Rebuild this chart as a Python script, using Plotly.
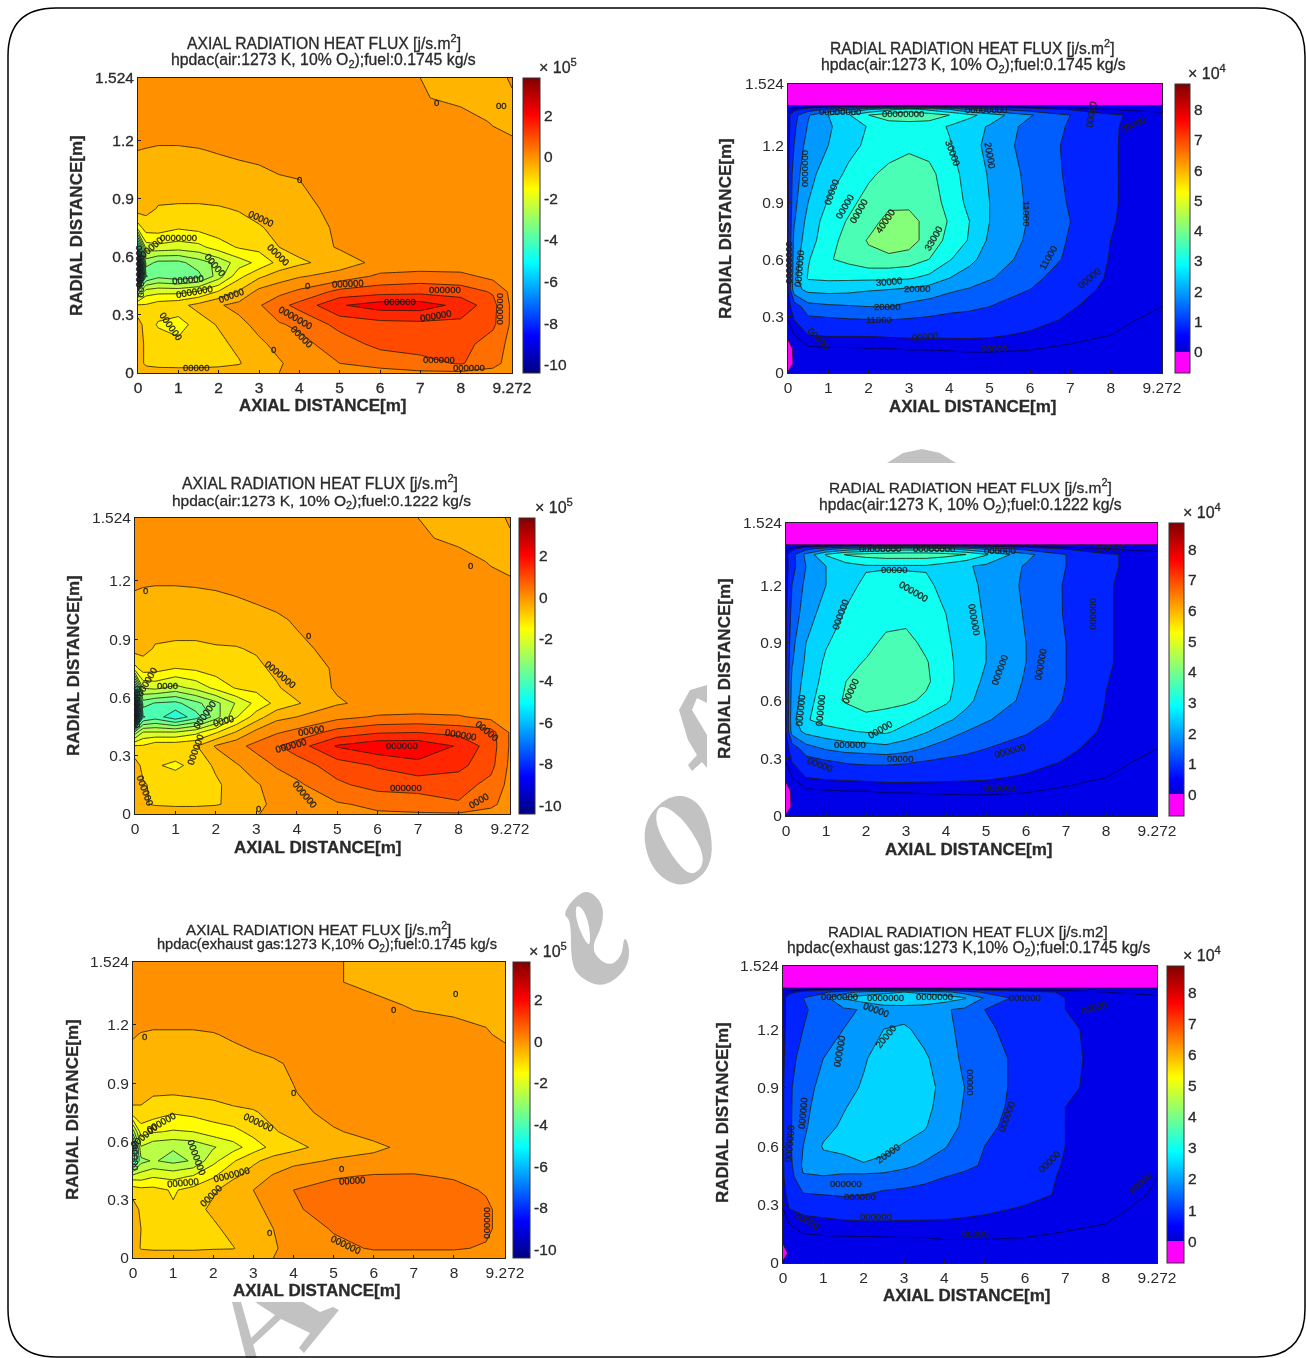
import plotly.graph_objects as go

W, H = 1306, 1358

x_left = [0, .2, .5, 1, 1.5, 2, 2.5, 3, 3.5, 4, 5, 6, 7, 8, 8.8, 9.272]
y_left = [0, .05, .15, .25, .35, .42, .5, .57, .65, .75, .85, 1.0, 1.15, 1.3, 1.42, 1.524]
x_right = [0, .15, .5, 1, 1.5, 2, 2.5, 3, 3.5, 4, 4.5, 5, 6, 7, 8, 9.272]
y_right = [0, .05, .13, .2, .28, .35, .44, .5, .6, .7, .8, .9, 1.05, 1.2, 1.3, 1.36, 1.39, 1.41, 1.43, 1.524]

x_tick_vals = [0, 1, 2, 3, 4, 5, 6, 7, 8, 9.272]
x_tick_text = ["0", "1", "2", "3", "4", "5", "6", "7", "8", "9.272"]
y_tick_vals = [0, .3, .6, .9, 1.2, 1.524]
y_tick_text = ["0", "0.3", "0.6", "0.9", "1.2", "1.524"]
cbar_left_ticks = [-10, -8, -6, -4, -2, 0, 2]
cbar_right_ticks = [0, 1, 2, 3, 4, 5, 6, 7, 8]

# axial flux, x 1e5
z_axial_a = [
 [-.3,-.35,-.4,-.45,-.45,-.4,-.4,-.3,-.25,0,.1,.1,.15,.15,.1,0],
 [-.4,-.9,-1,-1,-1,-.95,-.8,-.4,-.3,-.05,.25,.4,.6,.8,.4,.05],
 [-.4,-.9,-1,-1.1,-1.1,-.9,-.6,-.35,-.1,.1,.5,.9,.95,.95,.5,.1],
 [-.5,-1,-1.3,-1.5,-1,-.7,-.4,-.1,.2,.35,.9,1.05,1.1,1.1,.85,.15],
 [-1.2,-1.2,-1,-.9,-.6,-.3,-.1,.2,.6,.9,1.7,2,2,1.6,.9,.15],
 [-3,-2,-1.9,-1.9,-1.7,-1.2,-.7,-.1,.1,.35,.9,1.05,1.1,1,.7,.1],
 [-10,-3.8,-3.4,-3.6,-3.4,-2.5,-1.4,-.85,-.5,-.3,-.05,.35,.45,.4,.1,0],
 [-9,-3,-3.4,-3.4,-3,-2.6,-2,-1.6,-1.1,-.85,-.5,-.1,-.1,-.1,-.05,0],
 [-5,-2,-1.9,-2,-1.9,-1.5,-1.2,-1.1,-.75,-.55,-.2,0,0,0,0,0],
 [-1.5,-1,-1,-1.2,-1.1,-.95,-.9,-.8,-.6,-.4,-.2,0,0,0,0,0],
 [-.5,-.6,-.78,-.8,-.8,-.78,-.72,-.55,-.45,-.35,-.15,0,0,0,0,0],
 [-.4,-.4,-.5,-.5,-.5,-.45,-.45,-.4,-.3,-.25,-.02,0,0,0,0,0],
 [-.25,-.27,-.3,-.3,-.27,-.22,-.15,-.1,0,0,0,0,0,0,0,-.1],
 [0,0,0,0,0,0,0,0,0,0,0,0,0,0,-.3,-.4],
 [0,0,0,0,0,0,0,0,0,0,0,0,-.2,-.4,-.3,-.3],
 [0,0,0,0,0,0,0,0,0,0,0,0,-.25,-.4,-.4,-.2],
]
z_axial_b = [
 [-.3,-.3,-.4,-.4,-.4,-.35,-.3,-.28,-.1,0,.1,.2,.2,.2,.1,0],
 [-.4,-.7,-.8,-.85,-.85,-.8,-.6,-.3,-.2,-.05,.2,.35,.5,.7,.35,.05],
 [-.4,-.7,-.85,-.95,-1,-.85,-.5,-.3,-.05,.15,.65,.95,.95,.95,.6,.1],
 [-.5,-.9,-1.2,-1.35,-1.1,-.65,-.3,0,.3,.5,1,1.3,1.6,1.4,.9,.15],
 [-1.2,-1.2,-.9,-.9,-.8,-.2,.1,.4,.7,1,1.8,2.1,2.1,1.7,1,.2],
 [-3,-2.2,-2.2,-2.2,-1.9,-1.3,-.7,-.1,.2,.4,.95,1.2,1.25,1.1,.95,.2],
 [-10,-4.3,-4,-4.6,-4,-3,-1.8,-1,-.4,-.25,.1,.3,.35,.3,.1,0],
 [-9,-3.5,-3.8,-3.9,-3.4,-2.9,-2.2,-1.6,-1.1,-.8,-.3,-.1,-.1,-.1,-.05,0],
 [-5,-2.2,-2.1,-2.4,-2.1,-1.6,-1.2,-1.1,-.8,-.55,-.2,0,0,0,0,0],
 [-1.4,-1,-1.05,-1.25,-1.15,-1,-.9,-.85,-.65,-.45,-.2,0,0,0,0,0],
 [-.55,-.6,-.8,-.85,-.85,-.8,-.78,-.7,-.5,-.35,-.12,0,0,0,0,0],
 [-.4,-.4,-.5,-.5,-.5,-.45,-.45,-.4,-.32,-.2,0,0,0,0,0,0],
 [-.25,-.28,-.3,-.3,-.28,-.25,-.2,-.12,-.05,0,0,0,0,0,0,-.1],
 [0,0,0,0,0,0,0,0,0,0,0,0,0,0,-.3,-.4],
 [0,0,0,0,0,0,0,0,0,0,0,0,-.15,-.4,-.3,-.3],
 [0,0,0,0,0,0,0,0,0,0,0,0,-.25,-.4,-.4,-.2],
]
z_axial_c = [
 [-.3,-.3,-.35,-.35,-.35,-.35,-.3,-.3,-.25,-.1,0,0,0,0,0,0],
 [-.4,-.8,-.85,-.85,-.85,-.8,-.78,-.35,-.28,-.15,.1,.3,.3,.3,.2,.05],
 [-.4,-.75,-.9,-1,-1,-.9,-.5,-.35,-.25,-.1,.3,.4,.4,.4,.35,.05],
 [-.5,-.85,-1.1,-1.2,-1,-.6,-.4,-.3,-.2,.2,.4,.45,.45,.45,.35,.05],
 [-1,-1.1,-1.1,-1.3,-1.1,-.85,-.4,-.25,0,.25,.45,.45,.45,.4,.2,0],
 [-2,-2,-1.8,-1.9,-1.7,-1.3,-.85,-.5,-.2,.05,.2,.3,.3,.2,.05,0],
 [-4.5,-2.9,-2.7,-2.9,-2.7,-1.9,-1.3,-.85,-.55,-.4,-.2,-.1,0,0,0,0],
 [-5,-2.3,-2.6,-2.7,-2.6,-2.3,-1.95,-1.5,-1.1,-.9,-.5,-.35,-.1,0,0,0],
 [-3,-1.5,-1.7,-1.8,-1.75,-1.5,-1.4,-1.1,-.8,-.6,-.3,-.1,0,0,0,0],
 [-.9,-.9,-1,-1.2,-1.1,-1,-.85,-.8,-.6,-.4,-.1,0,0,0,0,0],
 [-.5,-.5,-.7,-.7,-.65,-.6,-.55,-.45,-.35,-.27,-.05,0,0,0,0,0],
 [-.4,-.4,-.45,-.45,-.45,-.4,-.4,-.35,-.3,-.2,0,0,0,0,0,0],
 [-.22,-.27,-.3,-.3,-.3,-.27,-.2,-.12,-.05,0,0,0,0,-.1,-.2,-.35],
 [0,0,0,0,0,0,0,0,0,0,0,-.1,-.3,-.35,-.4,-.4],
 [0,0,0,0,0,0,0,0,0,0,-.2,-.4,-.4,-.4,-.4,-.4],
 [0,0,0,0,0,0,0,0,0,0,-.2,-.4,-.4,-.4,-.4,-.4],
]
# radial flux, x 1e4
z_radial_a = [
 [.1,.1,.1,.1,.1,.1,.1,.1,.1,.1,.1,.1,.1,.1,.1,.1],
 [-.5,.1,.15,.15,.15,.15,.15,.15,.15,.15,.15,.15,.15,.15,.15,.1],
 [-.4,.15,.25,.28,.28,.3,.3,.32,.32,.33,.35,.35,.32,.25,.2,.15],
 [.2,.3,.55,.58,.58,.58,.6,.62,.62,.62,.62,.6,.5,.4,.3,.2],
 [.3,.55,.95,1,1.05,1.08,1.1,1.05,1,.95,.9,.85,.68,.5,.35,.25],
 [.4,.75,1.45,1.55,1.6,1.65,1.65,1.5,1.4,1.25,1.2,1.1,.85,.58,.42,.3],
 [.5,2,2.35,2.4,2.35,2.25,2.2,2.1,1.95,1.75,1.6,1.4,1.1,.68,.48,.34],
 [.5,2,2.8,2.85,2.85,2.85,2.85,2.8,2.6,2.2,1.95,1.7,1.25,.8,.5,.36],
 [.5,1.9,2.7,3.25,3.45,3.7,3.7,3.6,3.3,2.8,2.35,1.95,1.45,1,.52,.38],
 [.5,1.8,2.5,3.1,3.5,3.9,4.2,4.1,3.6,3.15,2.7,2.1,1.55,1.05,.55,.38],
 [.5,1.6,2.4,3,3.35,3.6,4.05,4,3.7,3.25,2.75,2.2,1.6,1.1,.57,.38],
 [.45,1.5,2.2,2.8,3.15,3.5,3.7,3.75,3.6,3.1,2.6,2.2,1.55,1.05,.58,.38],
 [.45,1.4,2,2.5,2.85,3.2,3.45,3.55,3.45,3,2.5,2.15,1.5,1,.58,.38],
 [.4,1.1,1.9,2.2,2.6,2.85,3.05,3.2,3.1,2.8,2.4,2.05,1.4,1,.58,.38],
 [.35,1,1.7,2.15,2.4,2.8,3,3,3,2.7,2.4,2.15,1.45,1.05,.58,.4],
 [.4,.9,1.6,2.2,2.7,3.3,3.6,3.7,3.6,3.3,2.9,2.5,1.7,1.1,.6,.4],
 [.2,.4,.8,1.2,1.6,2.2,2.6,3,2.6,2.2,1.6,1.2,.8,.5,.3,.2],
 [.02,.02,.02,.02,.02,.02,.02,.02,.02,.02,.02,.02,.02,.02,.02,.02],
 [-.5,-.5,-.5,-.5,-.5,-.5,-.5,-.5,-.5,-.5,-.5,-.5,-.5,-.5,-.5,-.5],
 [-.5,-.5,-.5,-.5,-.5,-.5,-.5,-.5,-.5,-.5,-.5,-.5,-.5,-.5,-.5,-.5],
]
z_radial_b = [
 [.1,.1,.1,.1,.1,.1,.1,.1,.1,.1,.1,.1,.1,.1,.1,.1],
 [-.5,.1,.15,.15,.15,.15,.15,.15,.15,.15,.15,.15,.15,.15,.15,.1],
 [-.4,.15,.25,.28,.3,.3,.32,.32,.33,.34,.35,.35,.32,.25,.2,.15],
 [.2,.3,.55,.6,.62,.65,.68,.68,.66,.64,.62,.6,.5,.4,.3,.2],
 [.3,.55,.85,1,1.15,1.2,1.2,1.15,1.05,.95,.9,.85,.7,.52,.35,.25],
 [.4,.75,1.4,1.7,1.85,1.9,2,1.85,1.6,1.4,1.25,1.1,.9,.62,.42,.3],
 [.5,1.9,2.35,2.55,2.7,2.8,2.85,2.55,2.25,1.9,1.65,1.45,1.15,.8,.48,.34],
 [.5,2,2.7,2.95,3,3.2,3.1,2.9,2.6,2.3,2,1.7,1.3,.95,.5,.36],
 [.5,1.9,2.5,3.1,3.35,3.45,3.45,3.4,3.2,2.85,2.35,1.95,1.55,1.05,.54,.38],
 [.5,1.8,2.4,2.95,3.3,3.55,3.6,3.6,3.4,2.95,2.45,2.1,1.6,1.1,.56,.38],
 [.5,1.6,2.3,2.85,3.1,3.35,3.6,3.6,3.35,2.9,2.5,2.2,1.65,1.1,.58,.38],
 [.45,1.5,2.2,2.7,3,3.1,3.45,3.5,3.15,2.85,2.45,2.2,1.65,1.1,.58,.38],
 [.45,1.3,1.95,2.45,2.8,3,3.05,3.1,3,2.75,2.4,2.15,1.6,1.05,.58,.38],
 [.4,1.1,1.8,2.2,2.6,2.85,2.95,2.9,2.85,2.6,2.35,2.1,1.55,1.05,.58,.38],
 [.35,.9,1.65,2.2,2.5,2.7,2.7,2.7,2.7,2.5,2.25,2.1,1.6,1.1,.6,.4],
 [.4,.9,1.8,2.8,3.35,3.5,3.6,3.6,3.6,3.5,3.3,2.8,1.8,1.1,.6,.4],
 [.2,.4,.9,1.4,1.8,2.1,2.3,2.5,2.5,2.3,1.9,1.5,.9,.5,.3,.2],
 [.02,.02,.02,.02,.02,.02,.02,.02,.02,.02,.02,.02,.02,.02,.02,.02],
 [-.5,-.5,-.5,-.5,-.5,-.5,-.5,-.5,-.5,-.5,-.5,-.5,-.5,-.5,-.5,-.5],
 [-.5,-.5,-.5,-.5,-.5,-.5,-.5,-.5,-.5,-.5,-.5,-.5,-.5,-.5,-.5,-.5],
]
z_radial_c = [
 [.1,.1,.1,.1,.1,.1,.1,.1,.1,.1,.1,.1,.1,.1,.1,.1],
 [-.3,.1,.15,.15,.15,.15,.15,.15,.15,.15,.15,.15,.15,.15,.15,.1],
 [.2,.15,.25,.27,.28,.28,.29,.3,.3,.32,.32,.32,.3,.25,.2,.15],
 [.2,.3,.42,.45,.48,.5,.5,.5,.5,.5,.48,.45,.42,.36,.3,.2],
 [.3,.55,.65,.7,.75,.75,.75,.72,.7,.68,.65,.62,.52,.42,.34,.25],
 [.4,.7,1.05,1.1,1.15,1.1,1,.98,.95,.9,.85,.8,.65,.5,.38,.28],
 [.5,.8,1.6,1.6,1.5,1.45,1.4,1.3,1.2,1.1,1,.95,.72,.5,.42,.3],
 [.5,.9,1.75,2,2,2.15,2.05,1.8,1.55,1.35,1.2,1.05,.78,.52,.44,.34],
 [.5,1,1.65,2.25,2.35,2.45,2.35,2.15,2,1.7,1.35,1.1,.8,.55,.45,.36],
 [.5,1,1.55,2,2.3,2.5,2.55,2.45,2.25,1.9,1.55,1.2,.9,.55,.46,.36],
 [.5,1,1.5,1.9,2.15,2.45,2.6,2.6,2.35,2,1.6,1.25,.95,.55,.46,.36],
 [.5,1,1.45,1.8,2.05,2.25,2.55,2.6,2.4,2.05,1.65,1.3,.95,.6,.46,.36],
 [.45,.9,1.3,1.65,1.9,2.15,2.4,2.5,2.3,1.9,1.55,1.3,.95,.62,.46,.36],
 [.4,.8,1.1,1.5,1.65,2.05,2.2,2.3,2,1.8,1.5,1.2,.85,.6,.46,.36],
 [.35,.8,1.05,1.25,1.55,1.7,1.9,1.9,1.85,1.7,1.55,1.1,.7,.55,.46,.38],
 [.4,.8,1.1,1.4,2.25,2.5,2.7,2.75,2.7,2.5,2.25,1.6,.8,.55,.46,.38],
 [.2,.4,.7,1,1.4,1.8,2,2.2,2,1.8,1.4,1,.7,.5,.3,.2],
 [.02,.02,.02,.02,.02,.02,.02,.02,.02,.02,.02,.02,.02,.02,.02,.02],
 [-.5,-.5,-.5,-.5,-.5,-.5,-.5,-.5,-.5,-.5,-.5,-.5,-.5,-.5,-.5,-.5],
 [-.5,-.5,-.5,-.5,-.5,-.5,-.5,-.5,-.5,-.5,-.5,-.5,-.5,-.5,-.5,-.5],
]

# inline contour labels: x, y, angle, text
labels_axial_a = [
 (3.05,.8,25,"00000"),(3.47,.61,45,"00000"),(1,.7,0,"0000000"),(.32,.65,-40,"00000"),(1.9,.56,50,"00000"),
 (1.25,.485,-5,"000000"),(1.4,.42,-10,"0000000"),(2.3,.4,-20,"00000"),(3.9,.285,30,"0000000"),(4.06,.19,45,"00000"),
 (.82,.24,55,"000000"),(1.45,.03,0,"00000"),(5.2,.46,-3,"000000"),(6.5,.37,0,"000000"),(7.4,.295,-10,"000000"),
 (7.6,.43,0,"000000"),(7.45,.07,0,"000000"),(8.2,.03,0,"000000"),(9,.33,90,"000000"),(.03,.55,90,"00000000"),
 (.1,.5,90,"00000000"),(4,1,0,"0"),(7.4,1.4,0,"0"),(9,1.38,0,"00"),(3.35,.12,0,"0"),(4.2,.45,0,"0"),
]
labels_axial_b = [
 (.3,.68,-60,"000000"),(.8,.66,0,"0000"),(1.73,.51,-55,"000000"),(1.5,.33,-70,"000000"),(2.2,.48,-15,"0000"),
 (3.6,.72,40,"0000000"),(3.85,.355,-15,"000000"),(4.35,.43,-10,"00000"),(6.6,.355,0,"000000"),(8.05,.41,10,"000000"),
 (6.7,.135,0,"000000"),(4.2,.1,50,"000000"),(8.7,.43,40,"00000"),(8.5,.07,-30,"0000"),(.25,.12,70,"000000"),
 (4.3,.92,0,"0"),(.25,1.15,0,"0"),(3.05,.03,0,"0"),(8.3,1.28,0,"0"),(.06,.55,90,"00000000"),
]
labels_axial_c = [
 (.28,1.14,0,"0"),(4,.85,0,"0"),(3.15,.7,25,"000000"),(.7,.7,-30,"000000"),(.28,.63,-40,"000000"),
 (1.6,.52,70,"0000000"),(1.25,.39,-5,"000000"),(2.45,.43,-15,"0000000"),(1.95,.32,-45,"00000"),(5.2,.46,0,"0"),
 (5.45,.4,-3,"00000"),(5.3,.07,25,"000000"),(8.85,.18,90,"000000"),(3.4,.13,0,"0"),(6.5,1.28,0,"0"),
 (8.05,1.36,0,"0"),(.07,.52,90,"00000"),
]
labels_radial_a = [
 (.45,1.08,90,"0000000"),(1.08,.95,-70,"00000"),(1.4,.88,-60,"00000"),(1.75,.85,-60,"00000"),(2.4,.8,-55,"40000"),
 (3.6,.71,-60,"33000"),(4.1,1.16,70,"30000"),(5,1.15,80,"20000"),(5.9,.84,90,"11000"),(6.45,.61,-60,"11000"),
 (7.45,.5,-40,"00000"),(7.5,1.36,-80,"00000"),(8.55,1.31,-25,"00000"),(.28,.55,-85,"0000000"),(2.5,.48,-5,"30000"),
 (3.2,.445,0,"20000"),(2.45,.35,0,"20000"),(2.25,.28,0,"11000"),(3.4,.19,-5,"00000"),(.75,.18,45,"00000"),
 (5.1,.13,0,"00000"),(2.85,1.37,0,"00000000"),(1.3,1.38,0,"00000000"),(4.9,1.39,0,"00000000"),(.06,.58,90,"00000000"),
]
labels_radial_b = [
 (2.35,1.39,0,"00000000"),(3.7,1.39,0,"00000000"),(5.35,1.38,0,"000000"),(2.7,1.28,0,"00000"),(3.2,1.17,30,"000000"),
 (4.7,1.02,80,"000000"),(7.7,1.05,90,"000000"),(1.35,1.05,-70,"000000"),(.35,.55,-85,"000000"),(.85,.55,-85,"000000"),
 (1.6,.65,-65,"00000"),(2.35,.45,-30,"00000"),(1.6,.37,0,"000000"),(2.85,.3,0,"00000"),(5.35,.76,-70,"000000"),
 (6.35,.79,-80,"000000"),(5.6,.34,-15,"000000"),(5.35,.15,0,"000000"),(.85,.27,20,"00000"),(8.1,1.39,0,"00000"),
]
labels_radial_c = [
 (1.4,1.09,-80,"000000"),(2.55,1.16,-50,"20000"),(2.3,1.3,20,"00000"),(4.65,.93,90,"00000"),(5.55,.75,-70,"000000"),
 (.5,.77,-85,"000000"),(2.6,.56,-35,"20000"),(1.55,.41,0,"000000"),(1.9,.34,0,"000000"),(6.6,.52,-45,"00000"),
 (8.85,.41,-45,"00000"),(2.3,.24,0,"000000"),(.6,.22,30,"00000"),(4.75,.15,0,"00000"),(.15,.61,-85,"0000000"),
 (7.7,1.31,-15,"00000"),(2.55,1.36,0,"0000000"),(3.75,1.37,0,"0000000"),(1.4,1.37,0,"0000000"),(6,1.36,0,"000000"),
]

title_axial = "AXIAL RADIATION HEAT FLUX [j/s.m<sup>2</sup>]"
title_radial = "RADIAL RADIATION HEAT FLUX [j/s.m<sup>2</sup>]"
title_radial_c = "RADIAL RADIATION HEAT FLUX [j/s.m2]"
sub_a = "hpdac(air:1273 K, 10% O<sub>2</sub>);fuel:0.1745 kg/s"
sub_b = "hpdac(air:1273 K, 10% O<sub>2</sub>);fuel:0.1222 kg/s"
sub_c = "hpdac(exhaust gas:1273 K,10% O<sub>2</sub>);fuel:0.1745 kg/s"
x_title = "AXIAL DISTANCE[m]"
y_title = "RADIAL DISTANCE[m]"

JET = [(0, (0, 0, 128)), (.125, (0, 0, 255)), (.375, (0, 255, 255)), (.625, (255, 255, 0)), (.875, (255, 0, 0)), (1, (128, 0, 0))]
rgb = lambda c: f"rgb({c[0]},{c[1]},{c[2]})"
scale_left = [[p, rgb(c)] for p, c in JET]
scale_right = [[0, "rgb(255,0,255)"], [.0735, "rgb(255,0,255)"], [.0735, "rgb(0,0,203)"]] + [[p, rgb(c)] for p, c in JET[1:]]


def contour_scale(cbar_scale, zmin, zmax, start, end, size):
    """Contour fills span start-size/2 .. last level+size/2; re-express the colour bar's stops over that span."""
    n_levels = int((end - start) / size + 1e-6) + 1
    d0, d1 = start - size / 2, start + (n_levels - 1) * size + size / 2
    out = [[0, cbar_scale[0][1]]]
    for f, c in cbar_scale:
        nf = (zmin + f * (zmax - zmin) - d0) / (d1 - d0)
        if 0 < nf < 1:
            out.append([nf, c])
    out.append([1, cbar_scale[-1][1]])
    return out


PANELS = [
 dict(box=(138, 78, 512, 373), cb=(523, 540), z=z_axial_a, kind="L", t=title_axial, s=sub_a, ty=(42, 61), tx=(324, 323), ts=(15.7, 15.8), xt=(323, 405), yt=(77, 226), exp=(558, 66), lab=labels_axial_a),
 dict(box=(788, 84, 1162, 373), cb=(1175, 1190), z=z_radial_a, kind="R", t=title_radial, s=sub_a, ty=(47, 65), tx=(972, 974), ts=(15.6, 15.8), xt=(973, 406), yt=(725, 229), exp=(1207, 72), lab=labels_radial_a),
 dict(box=(135, 518, 510, 814), cb=(519, 535), z=z_axial_b, kind="L", t=title_axial, s=sub_b, ty=(482, 501), tx=(320, 321), ts=(15.8, 15.5), xt=(318, 847), yt=(73, 666), exp=(554, 506), lab=labels_axial_b),
 dict(box=(786, 523, 1157, 816), cb=(1169, 1184), z=z_radial_b, kind="R", t=title_radial, s=sub_b, ty=(486, 505), tx=(970, 970), ts=(15.5, 15.7), xt=(969, 849), yt=(724, 669), exp=(1202, 511), lab=labels_radial_b),
 dict(box=(133, 962, 505, 1258), cb=(513, 530), z=z_axial_c, kind="L", t=title_axial, s=sub_c, ty=(928, 945), tx=(318, 327), ts=(15.2, 14.6), xt=(317, 1290), yt=(72, 1110), exp=(548, 950), lab=labels_axial_c),
 dict(box=(783, 966, 1157, 1263), cb=(1167, 1184), z=z_radial_c, kind="R", t=title_radial_c, s=sub_c, ty=(931, 948), tx=(968, 968), ts=(15.2, 15.6), xt=(967, 1295), yt=(722, 1113), exp=(1202, 954), lab=labels_radial_c),
]

fx = lambda px: px / W
fy = lambda py: 1 - py / H
TXT = "#2a2a2a"
FONT = "Liberation Sans, Arial, sans-serif"

fig = go.Figure()
annos = []
for i, p in enumerate(PANELS):
    n = "" if i == 0 else str(i + 1)
    x0, y0, x1, y1 = p["box"]
    left = p["kind"] == "L"
    zmin, zmax = (-10.4, 3.8) if left else (-.7, 8.85)
    cs = scale_left if left else scale_right
    start, end, step = (-10.25, 3.75, .5) if left else (-.55, 8.8, .55)
    xs, ys = (x_left, y_left) if left else (x_right, y_right)
    fig.add_trace(go.Contour(x=xs, y=ys, z=p["z"], colorscale=contour_scale(cs, zmin, zmax, start, end, step),
                             contours=dict(start=start, end=end, size=step, coloring="fill"),
                             line=dict(color="rgba(30,25,0,.8)", width=1, smoothing=0), showscale=False, hoverinfo="skip",
                             xaxis="x" + n, yaxis="y" + n))
    if not left:
        fig.add_trace(go.Contour(x=xs, y=ys, z=p["z"], contours=dict(start=.3, end=.3, size=1, coloring="none"),
                                 line=dict(color="rgba(0,0,60,.8)", width=1, smoothing=0), showscale=False, hoverinfo="skip",
                                 xaxis="x" + n, yaxis="y" + n))
    cb0, cb1 = p["cb"]
    ticks = cbar_left_ticks if left else cbar_right_ticks
    fig.add_trace(go.Scatter(x=[-50, -50], y=[-50, -50], mode="markers", hoverinfo="skip", showlegend=False,
                             xaxis="x" + n, yaxis="y" + n,
                             marker=dict(color=[zmin, zmax], cmin=zmin, cmax=zmax, colorscale=cs, showscale=True,
                                         colorbar=dict(x=fx(cb0), xanchor="left", xpad=0, ypad=0, y=fy(y0), yanchor="top",
                                                       len=(y1 - y0) / H, thickness=cb1 - cb0, thicknessmode="pixels",
                                                       tickmode="array", tickvals=ticks, ticktext=[str(v) for v in ticks],
                                                       ticks="", outlinewidth=1, outlinecolor="#333",
                                                       tickfont=dict(size=15.5, family=FONT, color=TXT)))))
    ax = dict(showgrid=False, zeroline=False, showline=True, mirror=True, linecolor="#222", linewidth=1, ticks="inside",
              ticklen=3, tickcolor="#222", tickfont=dict(size=15.5, family=FONT, color=TXT), tickmode="array")
    fig.update_layout({
        "xaxis" + n: dict(ax, domain=[fx(x0), fx(x1)], range=[0, 9.272], tickvals=x_tick_vals, ticktext=x_tick_text,
                          anchor="y" + n),
        "yaxis" + n: dict(ax, domain=[fy(y1), fy(y0)], range=[0, 1.524], tickvals=y_tick_vals, ticktext=y_tick_text,
                          anchor="x" + n),
    })
    for ty, txt, tx, ts in zip(p["ty"], (p["t"], p["s"]), p["tx"], p["ts"]):
        annos.append(dict(xref="paper", yref="paper", x=fx(tx), y=fy(ty), text=txt, showarrow=False,
                          font=dict(size=ts, family=FONT, color=TXT), xanchor="center", yanchor="middle"))
    annos.append(dict(xref="paper", yref="paper", x=fx(p["xt"][0]), y=fy(p["xt"][1]), text=f"<b>{x_title}</b>", showarrow=False,
                      font=dict(size=17, family=FONT, color=TXT), xanchor="center", yanchor="middle"))
    annos.append(dict(xref="paper", yref="paper", x=fx(p["yt"][0]), y=fy(p["yt"][1]), text=f"<b>{y_title}</b>", showarrow=False,
                      font=dict(size=17, family=FONT, color=TXT), textangle=-90, xanchor="center", yanchor="middle"))
    annos.append(dict(xref="paper", yref="paper", x=fx(p["exp"][0]), y=fy(p["exp"][1]),
                      text="× 10<sup>5</sup>" if left else "× 10<sup>4</sup>", showarrow=False,
                      font=dict(size=16, family=FONT, color=TXT), xanchor="center", yanchor="middle"))
    for lx, ly, la, lt in p["lab"]:
        annos.append(dict(xref="x" + n, yref="y" + n, x=lx, y=ly, text=lt, textangle=la, showarrow=False,
                          font=dict(size=9.5, family=FONT, color="#141414"), xanchor="center", yanchor="middle"))


def poly(points, close=True):
    d = "M " + " L ".join(f"{fx(a):.5f},{fy(b):.5f}" for a, b in points)
    return d + (" Z" if close else "")


def smooth(points):
    m = [((points[k][0] + points[(k + 1) % len(points)][0]) / 2, (points[k][1] + points[(k + 1) % len(points)][1]) / 2) for k in range(len(points))]
    d = f"M {fx(m[-1][0]):.5f},{fy(m[-1][1]):.5f} "
    for k, pt in enumerate(points):
        d += f"Q {fx(pt[0]):.5f},{fy(pt[1]):.5f} {fx(m[k][0]):.5f},{fy(m[k][1]):.5f} "
    return d + "Z"


GRAY = "#c2c2c2"
wm = [
 smooth([(675, 790), (707, 808), (715, 865), (683, 890), (650, 870), (641, 822)]) + " " + smooth([(660, 802), (687, 822), (707, 860), (692, 878), (672, 857), (654, 822)]),
 smooth([(563, 915), (572, 900), (587, 889), (603, 903), (603, 925), (590, 950), (608, 967), (622, 957), (624, 935), (630, 948), (627, 970), (603, 988), (580, 978), (571, 963), (571, 920)]) + " " + smooth([(575, 905), (583, 908), (590, 927), (590, 950), (577, 925)]),
 poly([(707, 685), (690, 690), (679, 710), (688, 740), (697, 755), (688, 765), (692, 771), (702, 762), (707, 768), (707, 735), (692, 710), (697, 698), (707, 703)]),
 poly([(232, 1302), (241, 1302), (257, 1358), (246, 1358)]),
 poly([(255, 1302), (303, 1302), (320, 1312), (333, 1307), (339, 1310), (304, 1353), (299, 1348), (310, 1333), (281, 1319), (253, 1345), (250, 1339), (275, 1315)]),
 poly([(887, 463), (903, 453), (922, 449), (940, 453), (956, 463)]),
]
shapes = [dict(type="path", xref="paper", yref="paper", path=d, fillcolor=GRAY, line=dict(width=0), layer="below") for d in wm]
L, T, R, B, r = 8, 8, 1305, 1357, 48
border = (f"M {fx(L + r)},{fy(T)} L {fx(R - r)},{fy(T)} Q {fx(R)},{fy(T)} {fx(R)},{fy(T + r)} "
          f"L {fx(R)},{fy(B - r)} Q {fx(R)},{fy(B)} {fx(R - r)},{fy(B)} L {fx(L + r)},{fy(B)} "
          f"Q {fx(L)},{fy(B)} {fx(L)},{fy(B - r)} L {fx(L)},{fy(T + r)} Q {fx(L)},{fy(T)} {fx(L + r)},{fy(T)} Z")
shapes.append(dict(type="path", xref="paper", yref="paper", path=border, line=dict(color="black", width=1.5)))

fig.update_layout(width=W, height=H, autosize=False, margin=dict(l=0, r=0, t=0, b=0, autoexpand=False), paper_bgcolor="white",
                  plot_bgcolor="white", showlegend=False, annotations=annos, shapes=shapes,
                  font=dict(family=FONT))
post = ("document.body.style.margin='0';"
        "document.querySelectorAll('.cartesianlayer,.infolayer').forEach(function(e){e.style.filter='blur(0.6px)';});"
        "document.querySelectorAll('.xtick text,.ytick text,.infolayer text').forEach(function(e){e.style.stroke='#2a2a2a';e.style.strokeWidth='0.3px';});")
fig.write_html("out.html", post_script=post, config={"displayModeBar": False})
